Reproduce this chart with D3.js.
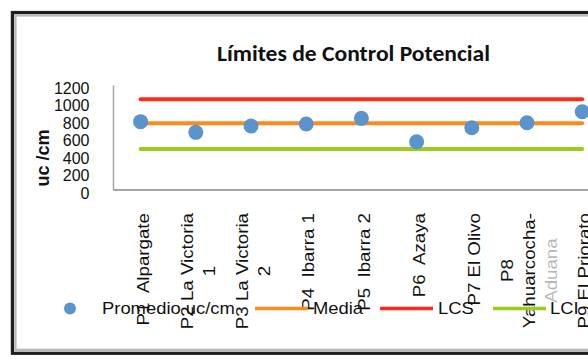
<!DOCTYPE html>
<html>
<head>
<meta charset="utf-8">
<script src="https://cdn.jsdelivr.net/npm/d3@7"></script>
<style>
  html, body { margin: 0; padding: 0; background: #fff; }
  svg { display: block; }
  text { font-family: "Liberation Sans", Arial, sans-serif; }
</style>
</head>
<body>
<svg id="chart" width="588" height="359"></svg>
<script>
// Sampling points (each label split into its wrapped lines)
const categories = ["P1", "P2", "P3", "P4", "P5", "P6", "P7", "P8", "P9"];
const categoryLabels = [
  ["P1  Alpargate"],
  ["P2 La Victoria", "1"],
  ["P3 La Victoria", "2"],
  ["P4  Ibarra 1"],
  ["P5  Ibarra 2"],
  ["P6  Azaya"],
  ["P7 El Olivo"],
  ["P8", "Yahuarcocha-", "Aduana"],
  ["P9 El Priorato"]
];
// Average uc/cm per point
const promedio = [781, 659, 731, 754, 819, 552, 712, 769, 895];
// Control lines
const media = [762, 762, 762, 762, 762, 762, 762, 762, 762];
const lcs = [1037, 1037, 1037, 1037, 1037, 1037, 1037, 1037, 1037];
const lci = [469, 469, 469, 469, 469, 469, 469, 469, 469];
const yTicks = [0, 200, 400, 600, 800, 1000, 1200];

const colors = { promedio: "#5b94cc", media: "#ff8a1c", lcs: "#ff2a1a", lci: "#9ccc1a" };

const svg = d3.select("#chart");

// Chart frame: dark outer border with a grey inner rim
svg.append("rect").attr("x", 12.4).attr("y", 12.5).attr("width", 640).attr("height", 340.8)
  .attr("fill", "#fff").attr("stroke", "#1e1e1e").attr("stroke-width", 3.2);
svg.append("rect").attr("x", 15.4).attr("y", 15.4).attr("width", 640).attr("height", 334.5)
  .attr("fill", "none").attr("stroke", "#b8b8b8").attr("stroke-width", 2.4);

// Title
svg.append("text")
  .attr("x", 217).attr("y", 61)
  .attr("textLength", 273).attr("lengthAdjust", "spacingAndGlyphs")
  .style("font-family", "Carlito, Lato, 'Open Sans', sans-serif")
  .style("font-weight", "bold").style("font-size", "22.5px").attr("fill", "#111")
  .text("Límites de Control Potencial");

// Scales
const x = d3.scaleBand().domain(categories).range([113, 113 + 9 * 55.2]);
const cx = d => x(d) + x.bandwidth() / 2;
const y = d3.scaleLinear().domain([0, 1200]).range([190, 85]);

// Y axis
const yAxis = svg.append("g").attr("transform", "translate(113,0)")
  .call(d3.axisLeft(y).tickValues(yTicks).tickFormat(d3.format("d"))
    .tickSize(0).tickSizeOuter(0).tickPadding(23.5));
yAxis.select(".domain").attr("stroke", "#a6a6a6").attr("stroke-width", 1.5);
yAxis.selectAll("text").style("font-size", "16px").attr("fill", "#111").attr("dy", "0.52em");

// X axis line
const xAxis = svg.append("g").attr("transform", "translate(0,189.5)")
  .call(d3.axisBottom(x).tickSize(0).tickSizeOuter(0).tickFormat(""));
xAxis.select(".domain").attr("stroke", "#a6a6a6").attr("stroke-width", 1.8);

// Y axis title
svg.append("text")
  .attr("transform", "translate(43,158) rotate(-90)")
  .attr("text-anchor", "middle").attr("dy", "0.35em")
  .style("font-weight", "bold").style("font-size", "18px").attr("fill", "#111")
  .text("uc /cm");

// Horizontal control lines
const line = d3.line().x((d, i) => cx(categories[i])).y(d => y(d));
[[lci, colors.lci], [lcs, colors.lcs], [media, colors.media]].forEach(([vals, c]) => {
  svg.append("path").datum(vals).attr("d", line)
    .attr("fill", "none").attr("stroke", c).attr("stroke-width", 4).attr("stroke-linecap", "round");
});

// Average points
svg.selectAll("circle.pt").data(promedio).enter().append("circle")
  .attr("class", "pt")
  .attr("cx", (d, i) => cx(categories[i])).attr("cy", d => y(d)).attr("r", 7.5)
  .attr("fill", colors.promedio);

// Category labels, rotated, top-aligned under the axis, wrapped lines centred on each other
const labelTop = 213, lineH = 22, stretch = 1.17;
categoryLabels.forEach((lines, i) => {
  const g = svg.append("g");
  const texts = lines.map(t => g.append("text").style("font-size", "16px")
    .style("white-space", "pre").attr("fill", "#111").attr("text-anchor", "middle").text(t));
  const longest = d3.max(texts, t => t.node().getComputedTextLength()) * stretch;
  const n = lines.length;
  texts.forEach((t, j) => {
    const lx = cx(categories[i]) + 2.5 + (j - (n - 1) / 2) * lineH;
    t.attr("transform", `translate(${lx},${labelTop + longest / 2}) rotate(-90) scale(${stretch},1)`)
      .attr("dy", "0.35em");
    // overflowing third line is mostly hidden
    if (j >= 2) t.attr("opacity", 0.3);
  });
});

// Legend
const legY = 308.5;
const leg = svg.append("g");
leg.append("circle").attr("cx", 70).attr("cy", legY).attr("r", 6).attr("fill", colors.promedio);
const legendItems = [
  { label: "Promedio uc/cm", tx: 102 },
  { label: "Media", tx: 313, x1: 255, x2: 308, c: colors.media },
  { label: "LCS", tx: 438, x1: 380, x2: 433, c: colors.lcs },
  { label: "LCI", tx: 550, x1: 493, x2: 546, c: colors.lci }
];
legendItems.forEach(it => {
  if (it.c) {
    leg.append("line").attr("x1", it.x1).attr("x2", it.x2).attr("y1", legY).attr("y2", legY)
      .attr("stroke", it.c).attr("stroke-width", 3.5);
  }
  leg.append("text").attr("transform", `translate(${it.tx},${legY}) scale(1.15,1)`)
    .attr("dy", "0.36em").style("font-size", "16px").attr("fill", "#111").text(it.label);
});
</script>
</body>
</html>
